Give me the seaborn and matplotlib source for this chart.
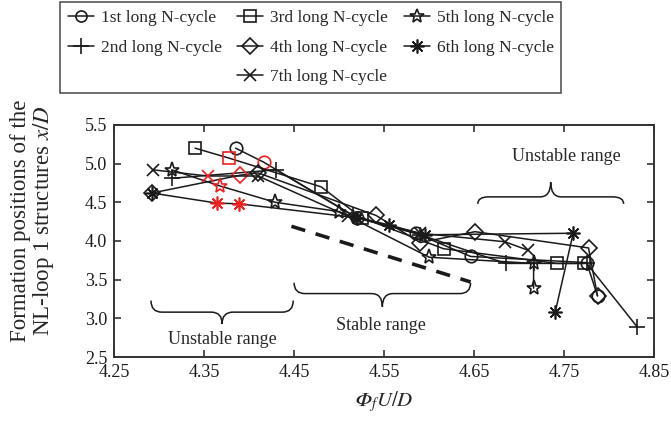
import matplotlib
matplotlib.use("Agg")
import matplotlib.pyplot as plt
import seaborn as sns
import numpy as np
from matplotlib.lines import Line2D
from matplotlib.path import Path
from matplotlib.patches import PathPatch

sns.set_theme(style="ticks")
plt.rcParams['font.family'] = ['Liberation Serif', 'DejaVu Serif']
plt.rcParams['mathtext.fontset'] = 'stix'

labels = ["1st long N-cycle", "2nd long N-cycle", "3rd long N-cycle", "4th long N-cycle",
          "5th long N-cycle", "6th long N-cycle", "7th long N-cycle"]

x1 = [4.385, 4.416, 4.52, 4.585, 4.646, 4.775, 4.787]
y1 = [5.20, 5.02, 4.30, 4.10, 3.80, 3.72, 3.29]
x2 = [4.314, 4.43, 4.515, 4.59, 4.685, 4.716, 4.775, 4.831]
y2 = [4.81, 4.92, 4.33, 4.08, 3.71, 3.71, 3.71, 2.89]
x3 = [4.34, 4.378, 4.48, 4.525, 4.616, 4.742, 4.772]
y3 = [5.20, 5.07, 4.70, 4.30, 3.90, 3.71, 3.71]
x4 = [4.292, 4.39, 4.41, 4.541, 4.59, 4.651, 4.777, 4.787]
y4 = [4.62, 4.85, 4.88, 4.33, 3.98, 4.12, 3.91, 3.29]
x5 = [4.314, 4.368, 4.429, 4.50, 4.60, 4.716, 4.716]
y5 = [4.92, 4.71, 4.50, 4.38, 3.79, 3.71, 3.39]
x6 = [4.292, 4.364, 4.389, 4.52, 4.555, 4.595, 4.76, 4.74]
y6 = [4.62, 4.49, 4.48, 4.30, 4.21, 4.08, 4.10, 3.08]
x7 = [4.293, 4.354, 4.41, 4.51, 4.59, 4.684, 4.71]
y7 = [4.92, 4.84, 4.84, 4.32, 4.10, 3.99, 3.88]

red1 = [1]; red2 = []; red3 = [1]; red4 = [1]; red5 = [1]; red6 = [1, 2]; red7 = [1]

xticks = [4.25, 4.35, 4.45, 4.55, 4.65, 4.75, 4.85]
yticks = [2.5, 3.0, 3.5, 4.0, 4.5, 5.0, 5.5]

ast = (8, 2, 0)
series = [
    (x1, y1, red1, 'o', 9),
    (x2, y2, red2, '+', 11),
    (x3, y3, red3, 's', 9),
    (x4, y4, red4, 'D', 8),
    (x5, y5, red5, '*', 11),
    (x6, y6, red6, ast, 10),
    (x7, y7, red7, 'x', 8),
]

RED = '#f02020'

fig = plt.figure(figsize=(6.71, 4.25), dpi=100)
ax = fig.add_axes([0.170, 0.160, 0.805, 0.546])

for xs, ys, reds, mk, ms in series:
    keep = [i for i in range(len(xs)) if i not in reds]
    sns.lineplot(x=xs, y=ys, sort=False, estimator=None, ax=ax, color='k', lw=1.1,
                 marker=mk, markersize=ms, markerfacecolor='none', markeredgecolor='k',
                 markeredgewidth=1.2, markevery=keep)
    if reds:
        sns.lineplot(x=[xs[i] for i in reds], y=[ys[i] for i in reds], sort=False,
                     estimator=None, ax=ax, color=RED, linestyle='none',
                     marker=mk, markersize=ms, markerfacecolor='none',
                     markeredgecolor=RED, markeredgewidth=1.2)

# dashed guide line
ax.plot([4.447, 4.646], [4.19, 3.47], color='k', lw=2.6, linestyle=(0, (4, 3)))

def hbrace(ax, x0, x1, y_end, y_line, y_tip, r):
    xm = 0.5 * (x0 + x1)
    verts = [(x0, y_end), (x0, y_line), (x0 + r, y_line),
             (xm - r, y_line),
             (xm, y_line), (xm, y_tip),
             (xm, y_line), (xm + r, y_line),
             (x1 - r, y_line),
             (x1, y_line), (x1, y_end)]
    codes = [Path.MOVETO, Path.CURVE3, Path.CURVE3,
             Path.LINETO,
             Path.CURVE3, Path.CURVE3,
             Path.CURVE3, Path.CURVE3,
             Path.LINETO,
             Path.CURVE3, Path.CURVE3]
    ax.add_patch(PathPatch(Path(verts, codes), fill=False, lw=1.1, edgecolor='k'))

hbrace(ax, 4.291, 4.449, 3.23, 3.08, 2.93, 0.012)
ax.text(4.37, 2.72, "Unstable range", ha='center', va='center', fontsize=13)
hbrace(ax, 4.45, 4.646, 3.46, 3.32, 3.15, 0.012)
ax.text(4.546, 2.91, "Stable range", ha='center', va='center', fontsize=13)
hbrace(ax, 4.654, 4.816, 4.48, 4.57, 4.76, 0.012)
ax.text(4.752, 5.09, "Unstable range", ha='center', va='center', fontsize=13)

ax.set_xlim(4.25, 4.85)
ax.set_ylim(2.5, 5.5)
ax.set_xticks(xticks)
ax.set_xticklabels([f"{t:.2f}" for t in xticks])
ax.set_yticks(yticks)
ax.set_yticklabels([f"{t:.1f}" for t in yticks])
ax.tick_params(direction='in', length=5, width=1.2, top=True, right=True,
               labelsize=13, colors='#333333', labelcolor='k', pad=5)
for s in ax.spines.values():
    s.set_linewidth(1.4)
    s.set_color('#333333')

ax.set_xlabel("$\U0001D6F7_f U/D$", fontsize=15, labelpad=6)
ax.set_ylabel("Formation positions of the\nNL-loop 1 structures $x/D$", fontsize=16.5,
              linespacing=1.0)
ax.yaxis.set_label_coords(-0.108, 0.586)

mk_list = ['o', '+', 's', 'D', '*', ast, 'x']
ms_list = [8, 11, 8, 8, 10, 10, 8]
handles = [Line2D([], [], color='k', lw=1.1, marker=m, markersize=s, markerfacecolor='none',
                  markeredgecolor='k', markeredgewidth=1.2)
           for m, s in zip(mk_list, ms_list)]
blank = Line2D([], [], color='none', lw=0)
h_order = [handles[0], handles[1], blank, handles[2], handles[3], handles[6],
           handles[4], handles[5], blank]
l_order = [labels[0], labels[1], "", labels[2], labels[3], labels[6], labels[4], labels[5], ""]
leg = fig.legend(h_order, l_order, ncol=3, loc='upper left', bbox_to_anchor=(0.089, 0.995),
                 borderaxespad=0, fontsize=12.5, frameon=True, fancybox=False, edgecolor='k',
                 handlelength=1.5, handletextpad=0.4, columnspacing=0.9,
                 labelspacing=0.78, borderpad=0.45)
leg.get_frame().set_linewidth(1.1)

fig.savefig("out.png", dpi=100)
